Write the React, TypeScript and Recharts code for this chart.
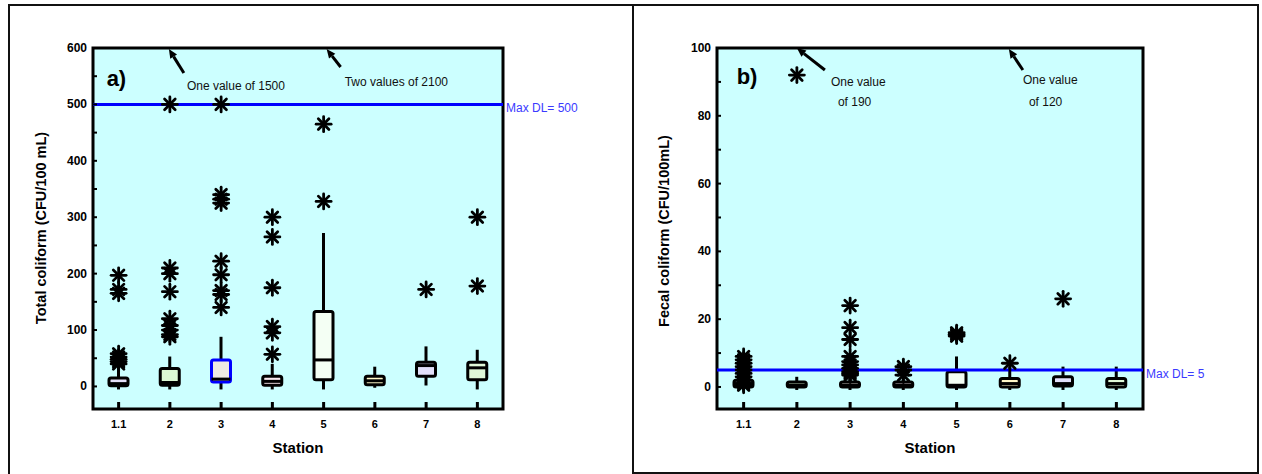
import React from "react";
import {
  ComposedChart,
  Bar,
  Scatter,
  XAxis,
  YAxis,
  ReferenceArea,
  ReferenceLine,
  ReferenceDot,
  Customized,
} from "recharts";

const FONT = '"Liberation Sans", Arial, sans-serif';
const PLOT_BG = "#ccffff";
const DL_BLUE = "#0000ff";
const DL_TEXT = "#3a3aff";
const INK = "#000000";

const STATIONS = ["1.1", "2", "3", "4", "5", "6", "7", "8"];
const BOX_FILLS = ["#e4e0f8", "#dcf8d4", "#eeeae2", "#f8e8ee", "#f4fff4", "#fff8c8", "#e2e0fa", "#e0f8d8"];
const TC_EDGES = [INK, INK, "#0000ff", INK, INK, INK, INK, INK];
const FC_EDGES = [INK, INK, INK, INK, INK, INK, INK, INK];

// a) total coliform, CFU/100 mL
const tcLow = [0, 0, 0, 0, 0, 3, 7, 0];
const tcQ1 = [1, 2, 8, 2, 12, 3, 18, 12];
const tcMed = [5, 7, 13, 9, 47, 10, 37, 33];
const tcQ3 = [15, 32, 47, 18, 133, 18, 43, 43];
const tcHigh = [38, 53, 88, 40, 272, 35, 71, 65];
const tcOutliers = [
  [197, 172, 165, 58, 52, 48, 44, 40],
  [500, 210, 200, 168, 120, 108, 100, 92, 88],
  [500, 340, 332, 325, 222, 198, 170, 163, 140],
  [300, 265, 175, 106, 95, 57],
  [465, 328],
  [],
  [172],
  [300, 178],
];
const tcTicks = [0, 50, 100, 150, 200, 250, 300, 350, 400, 450, 500, 550, 600];

// b) fecal coliform, CFU/100mL
const fcLow = [0, 0, 0, 0, 0, 0, 0, 0];
const fcQ1 = [0, 0, 0, 0, 0, 0, 0.3, 0];
const fcMed = [1, 0.5, 0.5, 0.5, 0.5, 1, 1, 1];
const fcQ3 = [2, 1.5, 1.5, 1.5, 4.5, 2.5, 3, 2.5];
const fcHigh = [3, 3, 2.5, 3, 9, 6, 6, 6];
const fcOutliers = [
  [9, 8, 7, 6, 5, 4, 3, 2, 1, 0.5],
  [92],
  [24, 17.5, 14, 9, 7.5, 6.5, 5.5, 4.5, 4, 3.5],
  [6, 5, 3.5],
  [16, 15.5, 15],
  [7],
  [26],
  [],
];
const fcTicks = [0, 10, 20, 30, 40, 50, 60, 70, 80, 90, 100];

function makeBoxes(low: number[], q1: number[], med: number[], q3: number[], high: number[], edges: string[]) {
  return STATIONS.map((station, i) => ({
    station,
    low: low[i],
    q1: q1[i],
    med: med[i],
    q3: q3[i],
    high: high[i],
    fill: BOX_FILLS[i],
    edge: edges[i],
  }));
}

function makePoints(outliers: number[][]) {
  return STATIONS.flatMap((station, i) => outliers[i].map((value) => ({ station, value })));
}

const tcBoxes = makeBoxes(tcLow, tcQ1, tcMed, tcQ3, tcHigh, TC_EDGES);
const fcBoxes = makeBoxes(fcLow, fcQ1, fcMed, fcQ3, fcHigh, FC_EDGES);
const tcPoints = makePoints(tcOutliers);
const fcPoints = makePoints(fcOutliers);

// box + whiskers, drawn inside the bar that spans low..high
function BoxShape(props: any) {
  const { x, y, width, height, payload } = props;
  if (x == null || y == null || !payload) return null;
  const top = Math.min(y, y + height);
  const h = Math.abs(height);
  const span = payload.high - payload.low;
  if (!span) return null;
  const py = (v: number) => top + ((payload.high - v) / span) * h;
  const cx = x + width / 2;
  const yQ1 = py(payload.q1);
  const yQ3 = py(payload.q3);
  return (
    <g>
      <line x1={cx} x2={cx} y1={py(payload.high)} y2={yQ3} stroke={INK} strokeWidth={3} />
      <line x1={cx} x2={cx} y1={yQ1} y2={py(payload.low) + 3} stroke={INK} strokeWidth={3} />
      <rect
        x={x}
        y={yQ3}
        width={width}
        height={Math.max(yQ1 - yQ3, 1)}
        rx={2}
        fill={payload.fill}
        stroke={payload.edge}
        strokeWidth={3}
      />
      <line x1={x} x2={x + width} y1={py(payload.med)} y2={py(payload.med)} stroke={INK} strokeWidth={3} />
    </g>
  );
}

function Star(props: any) {
  const { cx, cy } = props;
  if (cx == null || cy == null) return null;
  const r = 7.5;
  const d = 5.3;
  return (
    <g stroke={INK} strokeWidth={2.8} strokeLinecap="round">
      <line x1={cx - r} y1={cy} x2={cx + r} y2={cy} />
      <line x1={cx} y1={cy - r} x2={cx} y2={cy + r} />
      <line x1={cx - d} y1={cy - d} x2={cx + d} y2={cy + d} />
      <line x1={cx - d} y1={cy + d} x2={cx + d} y2={cy - d} />
    </g>
  );
}

function arrowNote(tip: [number, number], tail: [number, number], lines: { dx: number; dy: number; text: string }[]) {
  return (props: any) => {
    const { cx, cy } = props;
    if (cx == null || cy == null) return null;
    const tx = cx + tip[0];
    const ty = cy + tip[1];
    const sx = cx + tail[0];
    const sy = cy + tail[1];
    const ang = Math.atan2(ty - sy, tx - sx);
    const len = 9;
    const w = 4;
    const bx = tx - len * Math.cos(ang);
    const by = ty - len * Math.sin(ang);
    const head = `${tx},${ty} ${bx + w * Math.sin(ang)},${by - w * Math.cos(ang)} ${bx - w * Math.sin(ang)},${by + w * Math.cos(ang)}`;
    return (
      <g>
        <line x1={sx} y1={sy} x2={bx} y2={by} stroke={INK} strokeWidth={3} />
        <polygon points={head} fill={INK} />
        {lines.map((l, i) => (
          <text key={i} x={cx + l.dx} y={cy + l.dy} fontSize={12} fontFamily={FONT} fill="#111">
            {l.text}
          </text>
        ))}
      </g>
    );
  };
}

// panel letter, placed relative to the first station at the top of the axis
function panelLetter(letter: string, dx: number, dy: number) {
  return (props: any) => {
    const { cx, cy } = props;
    if (cx == null || cy == null) return null;
    return (
      <text x={cx + dx} y={cy + dy} fontSize={22} fontWeight="bold" fontFamily={FONT} fill={INK}>
        {letter}
      </text>
    );
  };
}

function XTick(props: any) {
  const { x, y, payload } = props;
  return (
    <g>
      <line x1={x} x2={x} y1={y} y2={y - 7} stroke={INK} strokeWidth={3} />
      <text x={x} y={y + 19} textAnchor="middle" fontSize={11} fontWeight="bold" fontFamily={FONT} fill={INK}>
        {payload.value}
      </text>
    </g>
  );
}

function makeYTick(step: number) {
  return (props: any) => {
    const { x, y, payload } = props;
    const v = payload.value;
    return (
      <g>
        <line x1={x} x2={x + 4} y1={y} y2={y} stroke={INK} strokeWidth={2} />
        {v % step === 0 ? (
          <text x={x - 6} y={y + 4} textAnchor="end" fontSize={12} fontWeight="bold" fontFamily={FONT} fill={INK}>
            {v}
          </text>
        ) : null}
      </g>
    );
  };
}

function dlLabel(text: string) {
  return (props: any) => {
    const vb = props.viewBox || {};
    return (
      <text x={vb.x + vb.width + 3} y={vb.y + 8} fontSize={12} fontFamily={FONT} fill={DL_TEXT}>
        {text}
      </text>
    );
  };
}

function YTitle({ text, tx, ty }: any) {
  return (
    <text
      x={tx}
      y={ty}
      transform={`rotate(-90 ${tx} ${ty})`}
      textAnchor="middle"
      fontSize={14.5}
      fontWeight="bold"
      fontFamily={FONT}
      fill={INK}
    >
      {text}
    </text>
  );
}

function TotalColiformChart() {
  return (
    <ComposedChart
      width={632}
      height={474}
      data={tcBoxes}
      margin={{ top: 48, right: 129, bottom: 20, left: 43 }}
    >
      <XAxis
        dataKey="station"
        type="category"
        allowDuplicatedCategory={false}
        axisLine={false}
        tickLine={false}
        tickSize={0}
        tickMargin={0}
        height={45}
        tick={<XTick />}
        label={{ value: "Station", position: "insideBottom", offset: 1, fontSize: 15, fontWeight: "bold", fontFamily: FONT, fill: INK }}
      />
      <YAxis
        type="number"
        domain={[-40, 600]}
        ticks={tcTicks}
        allowDataOverflow
        width={50}
        axisLine={false}
        tickLine={false}
        tickSize={0}
        tickMargin={0}
        tick={makeYTick(100)}
      />
      <ReferenceArea y1={-40} y2={600} fill={PLOT_BG} fillOpacity={1} stroke={INK} strokeWidth={3} />
      <Bar dataKey={(d: any) => [d.low, d.high]} barSize={19} shape={<BoxShape />} isAnimationActive={false} />
      <Scatter data={tcPoints} dataKey="value" shape={<Star />} isAnimationActive={false} />
      <ReferenceLine y={500} stroke={DL_BLUE} strokeWidth={3} label={dlLabel("Max DL= 500")} />
      <ReferenceDot x="1.1" y={600} r={0} ifOverflow="visible" shape={panelLetter("a)", -12, 38)} />
      <ReferenceDot
        x="2"
        y={600}
        r={0}
        ifOverflow="visible"
        shape={arrowNote([-1, 1], [14, 25], [{ dx: 17, dy: 42, text: "One value of 1500" }])}
      />
      <ReferenceDot
        x="5"
        y={600}
        r={0}
        ifOverflow="visible"
        shape={arrowNote([3, 1], [17, 19], [{ dx: 21, dy: 38, text: "Two values of 2100" }])}
      />
      <Customized component={<YTitle text="Total coliform (CFU/100 mL)" tx={46} ty={228} />} />
    </ComposedChart>
  );
}

function FecalColiformChart() {
  return (
    <ComposedChart
      width={630}
      height={474}
      data={fcBoxes}
      margin={{ top: 48, right: 119, bottom: 20, left: 35 }}
    >
      <XAxis
        dataKey="station"
        type="category"
        allowDuplicatedCategory={false}
        axisLine={false}
        tickLine={false}
        tickSize={0}
        tickMargin={0}
        height={45}
        tick={<XTick />}
        label={{ value: "Station", position: "insideBottom", offset: 1, fontSize: 15, fontWeight: "bold", fontFamily: FONT, fill: INK }}
      />
      <YAxis
        type="number"
        domain={[-6.5, 100]}
        ticks={fcTicks}
        allowDataOverflow
        width={50}
        axisLine={false}
        tickLine={false}
        tickSize={0}
        tickMargin={0}
        tick={makeYTick(20)}
      />
      <ReferenceArea y1={-6.5} y2={100} fill={PLOT_BG} fillOpacity={1} stroke={INK} strokeWidth={3} />
      <Bar dataKey={(d: any) => [d.low, d.high]} barSize={19} shape={<BoxShape />} isAnimationActive={false} />
      <Scatter data={fcPoints} dataKey="value" shape={<Star />} isAnimationActive={false} />
      <ReferenceLine y={5} stroke={DL_BLUE} strokeWidth={3} label={dlLabel("Max DL= 5")} />
      <ReferenceDot x="1.1" y={100} r={0} ifOverflow="visible" shape={panelLetter("b)", -7, 36)} />
      <ReferenceDot
        x="2"
        y={100}
        r={0}
        ifOverflow="visible"
        shape={arrowNote(
          [0, 0],
          [28, 22],
          [
            { dx: 34, dy: 38, text: "One value" },
            { dx: 41, dy: 58, text: "of 190" },
          ]
        )}
      />
      <ReferenceDot
        x="6"
        y={100}
        r={0}
        ifOverflow="visible"
        shape={arrowNote(
          [-1, 1],
          [13, 22],
          [
            { dx: 13, dy: 36, text: "One value" },
            { dx: 19, dy: 58, text: "of 120" },
          ]
        )}
      />
      <Customized component={<YTitle text="Fecal coliform (CFU/100mL)" tx={37} ty={231} />} />
    </ComposedChart>
  );
}

export default function App() {
  return (
    <div style={{ position: "absolute", left: 0, top: 0, width: 1262, height: 474, background: "#fff", overflow: "hidden" }}>
      <div
        style={{
          position: "absolute",
          left: 8,
          top: 4,
          width: 626,
          height: 490,
          boxSizing: "border-box",
          border: "2px solid #111",
        }}
      />
      <div
        style={{
          position: "absolute",
          left: 632,
          top: 4,
          width: 627,
          height: 470,
          boxSizing: "border-box",
          border: "2px solid #111",
        }}
      />
      <div style={{ position: "absolute", left: 0, top: 0 }}>
        <TotalColiformChart />
      </div>
      <div style={{ position: "absolute", left: 632, top: 0 }}>
        <FecalColiformChart />
      </div>
    </div>
  );
}
